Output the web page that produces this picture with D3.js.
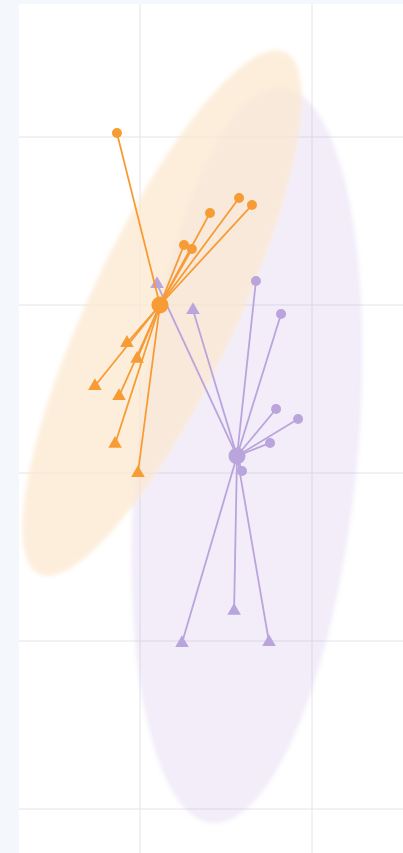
<!DOCTYPE html>
<html>
<head>
<meta charset="utf-8">
<script src="https://cdn.jsdelivr.net/npm/d3@7/dist/d3.min.js"></script>
<style>
  html, body { margin: 0; padding: 0; background: #f4f8fd; }
  svg { display: block; }
</style>
</head>
<body>
<svg id="chart" width="403" height="853"></svg>
<script>
// Grid tick values
const xTicks = [0, 1];
const yTicks = [2, 1, 0, -1, -2];

// Group A (orange)
const aCircles = [[-0.134, 2.024], [0.407, 1.548], [0.576, 1.637], [0.651, 1.595], [0.256, 1.357], [0.302, 1.333]];
const aTriangles = [[-0.076, 0.774], [-0.017, 0.679], [-0.262, 0.518], [-0.122, 0.458], [-0.145, 0.173], [-0.012, 0.0]];
const aCentroid = [0.116, 1.0];
// ellipse: centre, half major-axis vector, half minor-axis vector
const aEllipse = [[0.128, 0.952], [0.715, 1.554], [0.384, -0.185]];

// Group B (purple)
const bCircles = [[0.674, 1.143], [0.820, 0.946], [0.791, 0.381], [0.919, 0.321], [0.756, 0.179], [0.593, 0.012]];
const bTriangles = [[0.099, 1.125], [0.308, 0.970], [0.244, -1.012], [0.547, -0.821], [0.750, -1.006]];
const bCentroid = [0.564, 0.101];
const bEllipse = [[0.622, 0.107], [0.206, 2.19], [0.639, -0.063]];

const svg = d3.select("#chart");
const plot = { left: 19, top: 4, right: 403, bottom: 853 };

const x = d3.scaleLinear().domain([0, 1]).range([140, 312]);
const y = d3.scaleLinear().domain([0, 1]).range([473, 305]);

svg.append("rect")
  .attr("x", plot.left).attr("y", plot.top)
  .attr("width", plot.right - plot.left).attr("height", plot.bottom - plot.top)
  .attr("fill", "#ffffff");

const defs = svg.append("defs");
defs.append("filter").attr("id", "soft")
  .attr("x", "-20%").attr("y", "-20%").attr("width", "140%").attr("height", "140%")
  .append("feGaussianBlur").attr("stdDeviation", 2);

// grid
const grid = svg.append("g").attr("stroke", "#e4e4e8").attr("stroke-width", 1);
grid.selectAll("line.v").data(xTicks).join("line").attr("class", "v")
  .attr("x1", d => x(d)).attr("x2", d => x(d))
  .attr("y1", plot.top).attr("y2", plot.bottom);
grid.selectAll("line.h").data(yTicks).join("line").attr("class", "h")
  .attr("y1", d => y(d)).attr("y2", d => y(d))
  .attr("x1", plot.left).attr("x2", plot.right);

function ellipsePath(e) {
  const [c, m, n] = e;
  const pts = d3.range(0, 361, 3).map(deg => {
    const t = deg * Math.PI / 180;
    return [x(c[0] + m[0] * Math.cos(t) + n[0] * Math.sin(t)),
            y(c[1] + m[1] * Math.cos(t) + n[1] * Math.sin(t))];
  });
  return d3.line().curve(d3.curveLinearClosed)(pts);
}

const ellipses = svg.append("g").attr("filter", "url(#soft)");
ellipses.append("path").attr("d", ellipsePath(bEllipse))
  .attr("fill", "rgb(190,165,225)").attr("fill-opacity", 0.2);
ellipses.append("path").attr("d", ellipsePath(aEllipse))
  .attr("fill", "rgb(252,231,206)").attr("fill-opacity", 0.72);

function drawGroup(circles, triangles, centroid, color) {
  const g = svg.append("g");
  const all = circles.concat(triangles);
  g.selectAll("line").data(all).join("line")
    .attr("x1", d => x(d[0])).attr("y1", d => y(d[1]))
    .attr("x2", x(centroid[0])).attr("y2", y(centroid[1]))
    .attr("stroke", color).attr("stroke-width", 1.8);
  g.selectAll("circle.pt").data(circles).join("circle").attr("class", "pt")
    .attr("cx", d => x(d[0])).attr("cy", d => y(d[1])).attr("r", 5)
    .attr("fill", color);
  g.selectAll("path.tri").data(triangles).join("path").attr("class", "tri")
    .attr("d", d3.symbol(d3.symbolTriangle, 80))
    .attr("transform", d => `translate(${x(d[0])},${y(d[1])})`)
    .attr("fill", color);
  g.append("circle")
    .attr("cx", x(centroid[0])).attr("cy", y(centroid[1])).attr("r", 8.5)
    .attr("fill", color);
}

drawGroup(bCircles, bTriangles, bCentroid, "#b9a5dc");
drawGroup(aCircles, aTriangles, aCentroid, "#f79c35");
</script>
</body>
</html>
